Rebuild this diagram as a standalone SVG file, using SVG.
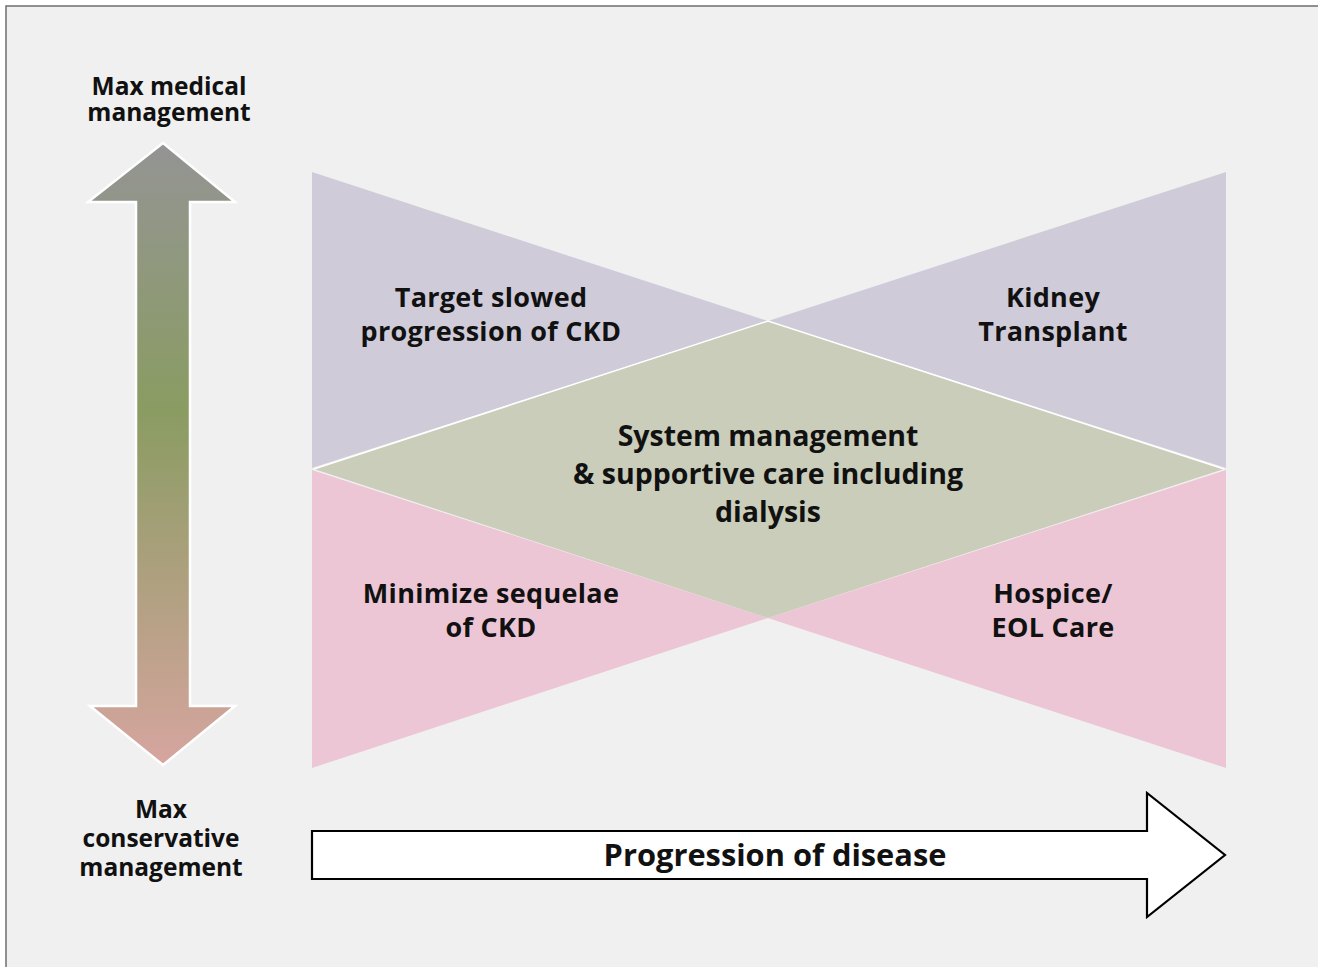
<svg xmlns="http://www.w3.org/2000/svg" width="1318" height="967" viewBox="0 0 1318 967">
<defs>
<linearGradient id="vgrad" x1="0" y1="143" x2="0" y2="765" gradientUnits="userSpaceOnUse">
<stop offset="0" stop-color="#949494"/>
<stop offset="0.43" stop-color="#8a9c62"/>
<stop offset="1" stop-color="#d6a59f"/>
</linearGradient>
<style>
.t{font-family:"Open Sans","Liberation Sans",sans-serif;font-weight:700;fill:#111;text-anchor:middle}
.s24{font-size:24.5px}
.s26{font-size:27px;letter-spacing:0.3px}
.s28{font-size:28.5px}
.s30{font-size:30.8px}
</style>
</defs>
<rect x="6" y="6" width="1320" height="970" fill="#f0f0f0" stroke="#6e6e6e" stroke-width="1.5"/>
<g id="bowtie">
<polygon id="upper-left" points="312,172 312,468 768,321" fill="#cfcbd9"/>
<polygon id="upper-right" points="1226,172 1226,468 768,321" fill="#cfcbd9"/>
<polygon id="lower-left" points="312,470 312,768 768,618" fill="#ecc6d5"/>
<polygon id="lower-right" points="1226,470 1226,768 768,618" fill="#ecc6d5"/>
<polygon id="diamond" points="314,469 768,321 1224,469 768,618" fill="#c9cdb9"/>
<polyline points="314,469 768,321 1224,469" fill="none" stroke="#ffffff" stroke-width="1.5"/>
</g>
<g id="node-target"><text class="t s26" x="491" y="307">Target slowed</text><text class="t s26" x="491" y="341">progression of CKD</text></g>
<g id="node-kidney"><text class="t s26" x="1053" y="307">Kidney</text><text class="t s26" x="1053" y="341">Transplant</text></g>
<g id="node-system"><text class="t s28" x="768" y="446">System management</text><text class="t s28" x="768" y="484">&amp; supportive care including</text><text class="t s28" x="768" y="522">dialysis</text></g>
<g id="node-minimize"><text class="t s26" x="491" y="603">Minimize sequelae</text><text class="t s26" x="491" y="637">of CKD</text></g>
<g id="node-hospice"><text class="t s26" x="1053" y="603">Hospice/</text><text class="t s26" x="1053" y="637">EOL Care</text></g>
<g id="connectors">
<polygon id="vertical-arrow" points="163,143 235,202 190,202 190,706 235,706 163,765 90,706 136,706 136,202 88,202" fill="url(#vgrad)" stroke="#ffffff" stroke-width="2.5"/>
<polygon id="progress-arrow" points="312,831 1147,831 1147,793 1225,855 1147,917 1147,879 312,879" fill="#ffffff" stroke="#000" stroke-width="2.2"/>
</g>
<g id="label-max-medical"><text class="t s24" x="169" y="95">Max medical</text><text class="t s24" x="169" y="121">management</text></g>
<g id="label-max-conservative"><text class="t s24" x="161" y="818">Max</text><text class="t s24" x="161" y="847">conservative</text><text class="t s24" x="161" y="876">management</text></g>
<g id="label-progression"><text class="t s30" x="775" y="866">Progression of disease</text></g>
</svg>
